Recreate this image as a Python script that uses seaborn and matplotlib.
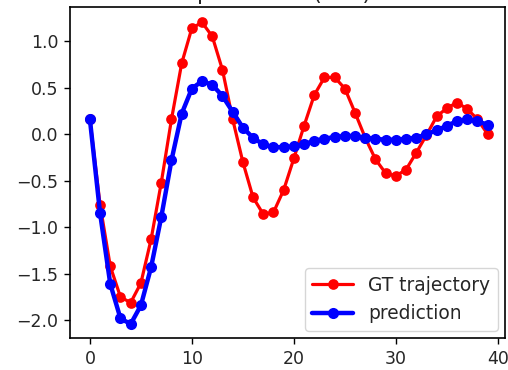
import matplotlib
matplotlib.use("Agg")
import matplotlib.pyplot as plt
import seaborn as sns
import pandas as pd

# time steps of the sequence
steps = list(range(40))

# ground-truth trajectory
gt_values = [0.16, -0.76, -1.42, -1.75, -1.81, -1.60, -1.13, -0.52, 0.16, 0.76,
             1.14, 1.20, 1.05, 0.69, 0.16, -0.30, -0.68, -0.86, -0.84, -0.60,
             -0.26, 0.09, 0.42, 0.61, 0.61, 0.49, 0.23, -0.04, -0.27, -0.42,
             -0.45, -0.38, -0.20, -0.01, 0.19, 0.28, 0.34, 0.27, 0.16, 0.00]

# model prediction
pred_values = [0.16, -0.85, -1.61, -1.98, -2.04, -1.84, -1.43, -0.89, -0.28, 0.22,
               0.49, 0.57, 0.53, 0.41, 0.24, 0.07, -0.04, -0.11, -0.14, -0.14,
               -0.13, -0.11, -0.07, -0.05, -0.03, -0.02, -0.02, -0.04, -0.05, -0.06,
               -0.06, -0.05, -0.04, 0.00, 0.04, 0.09, 0.14, 0.16, 0.14, 0.10]

series_names = ["GT trajectory", "prediction"]
title_text = "Test Sequence 12 (Roll) Position"

sns.set_style("ticks")
plt.rcParams["font.family"] = ["DejaVu Sans"]

df = pd.DataFrame({"step": steps, "gt": gt_values, "pred": pred_values})

fig = plt.figure(figsize=(5.08, 3.70), dpi=100)
ax = fig.add_axes([70 / 508, 32 / 370, 435 / 508, 331 / 370])

sns.lineplot(data=df, x="step", y="gt", ax=ax, color="red", linewidth=2.3,
             marker="o", markersize=7.7, markeredgewidth=0, label=series_names[0])
sns.lineplot(data=df, x="step", y="pred", ax=ax, color="blue", linewidth=3.2,
             marker="o", markersize=8, markeredgewidth=0, label=series_names[1])

ax.set_xlabel("")
ax.set_ylabel("")
ax.set_xticks([0, 10, 20, 30, 40])
ax.set_yticks([-2.0, -1.5, -1.0, -0.5, 0.0, 0.5, 1.0])
ax.set_xlim(-1.95, 40.7)
ax.set_ylim(-2.19, 1.366)
ax.tick_params(labelsize=12.5, length=4.5, width=1, color="black", pad=4)
for s in ax.spines.values():
    s.set_linewidth(1.2)
    s.set_color("black")

leg = ax.legend(loc="lower right", fontsize=13.4, frameon=True, fancybox=True,
                handlelength=2.2, borderaxespad=0.4)
leg.get_frame().set_edgecolor("#cccccc")

# heading sits mostly above the canvas edge
fig.text(0.565, 1.0, title_text, ha="center", va="baseline", fontsize=16)

fig.savefig("out.png", dpi=100)
